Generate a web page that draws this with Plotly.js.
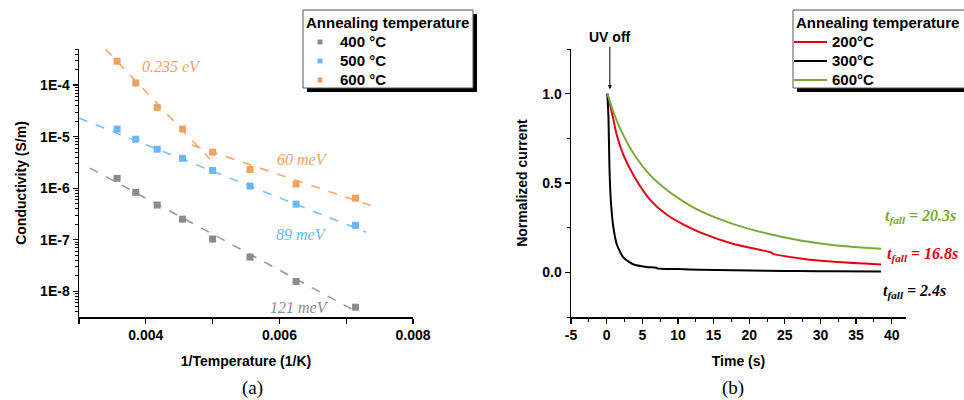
<!DOCTYPE html>
<html>
<head>
<meta charset="utf-8">
<script src="https://cdn.plot.ly/plotly-3.0.1.min.js"></script>
<style>html,body{margin:0;padding:0;background:#fff;}#chart{width:964px;height:400px;}</style>
</head>
<body>
<div id="chart"></div>
<script>
// ---------- Panel (a): conductivity vs 1/T ----------
const invT = [0.00357, 0.00385, 0.00417, 0.00455, 0.00500, 0.00556, 0.00625, 0.00714];
const sigma400 = [1.55e-6, 8.3e-7, 4.7e-7, 2.5e-7, 1.03e-7, 4.6e-8, 1.55e-8, 4.9e-9];
const sigma500 = [1.4e-5, 8.9e-6, 5.7e-6, 3.8e-6, 2.2e-6, 1.1e-6, 4.9e-7, 1.9e-7];
const sigma600 = [2.9e-4, 1.1e-4, 3.7e-5, 1.4e-5, 5.0e-6, 2.3e-6, 1.2e-6, 6.4e-7];
const seriesNamesA = ["400 °C", "500 °C", "600 °C"];

// fitted lines (end points)
const fit400X = [0.003165, 0.007147];
const fit400Y = [2.45e-6, 4.07e-9];
const fit500X = [0.0030, 0.007296];
const fit500Y = [2.29e-5, 1.40e-7];
const fit600aX = [0.00321, 0.00496];
const fit600aY = [8.93e-4, 3.66e-6];
const fit600bX = [0.00469, 0.00740];
const fit600bY = [6.84e-6, 4.47e-7];
const energyLabels = ["121 meV", "89 meV", "0.235 eV", "60 meV"];
const xTicksA = [0.003, 0.004, 0.005, 0.006, 0.007, 0.008];
const xTickTextA = ["", "0.004", "", "0.006", "", "0.008"];
const yTicksA = [1e-8, 1e-7, 1e-6, 1e-5, 1e-4];
const yTickTextA = ["1E-8", "1E-7", "1E-6", "1E-5", "1E-4"];

// ---------- Panel (b): normalized current decay ----------
const tBlack = [0.1, 0.26, 0.40, 0.59, 0.96, 1.43, 2.36, 3.77, 5.6, 7.05, 7.1, 10, 13.1, 17.8, 22.5, 27.2, 31.9, 38.5];
const iBlack = [1.0, 0.86, 0.58, 0.40, 0.248, 0.156, 0.082, 0.044, 0.030, 0.025, 0.022, 0.018, 0.015, 0.012, 0.009, 0.007, 0.006, 0.004];
const tRed = [0.1, 0.73, 1.43, 2.36, 3.77, 6.1, 8.45, 10.8, 13.1, 17.8, 23.2, 23.3, 27.2, 31.9, 38.5];
const iRed = [1.0, 0.896, 0.767, 0.656, 0.544, 0.406, 0.322, 0.267, 0.224, 0.159, 0.109, 0.104, 0.078, 0.059, 0.044];
const tGreen = [0.1, 0.96, 1.9, 2.84, 3.77, 6.1, 8.45, 10.8, 13.1, 17.8, 22.5, 27.2, 31.9, 38.5];
const iGreen = [1.0, 0.896, 0.804, 0.73, 0.665, 0.544, 0.461, 0.396, 0.344, 0.270, 0.217, 0.178, 0.152, 0.132];
const seriesNamesB = ["200°C", "300°C", "600°C"];
const tfallLabels = ["20.3s", "16.8s", "2.4s"];
const xTicksB = [-5, 0, 5, 10, 15, 20, 25, 30, 35, 40];
const yTicksB = [0, 0.5, 1.0];
const yTickTextB = ["0.0", "0.5", "1.0"];

// ---------- helpers (pixel -> paper) ----------
const W = 964, H = 400;
const px = x => x / W;
const py = y => 1 - y / H;

const cGray = "#8c8c8c", cBlue = "#6cb6f2", cOrange = "#eea262";
const cGrayL = "#9a9a9a", cBlueL = "#7cc0f4", cOrangeL = "#f0aa6c";
const cRed = "#e3000f", cBlack = "#000000", cGreen = "#7aa83a";

const mk = c => ({symbol: "square", size: 7, color: c});
const traces = [
  {x: fit400X, y: fit400Y, mode: "lines", line: {color: cGrayL, dash: "dash", width: 1.6}, xaxis: "x", yaxis: "y"},
  {x: fit500X, y: fit500Y, mode: "lines", line: {color: cBlueL, dash: "dash", width: 1.6}, xaxis: "x", yaxis: "y"},
  {x: fit600aX, y: fit600aY, mode: "lines", line: {color: cOrangeL, dash: "dash", width: 1.6}, xaxis: "x", yaxis: "y"},
  {x: fit600bX, y: fit600bY, mode: "lines", line: {color: cOrangeL, dash: "dash", width: 1.6}, xaxis: "x", yaxis: "y"},
  {x: invT, y: sigma400, mode: "markers", name: seriesNamesA[0], marker: mk(cGray), xaxis: "x", yaxis: "y"},
  {x: invT, y: sigma500, mode: "markers", name: seriesNamesA[1], marker: mk(cBlue), xaxis: "x", yaxis: "y"},
  {x: invT, y: sigma600, mode: "markers", name: seriesNamesA[2], marker: mk(cOrange), xaxis: "x", yaxis: "y"},
  {x: tRed, y: iRed, mode: "lines", name: seriesNamesB[0], line: {color: cRed, width: 2, shape: "spline", smoothing: 0.8}, xaxis: "x2", yaxis: "y2"},
  {x: tBlack, y: iBlack, mode: "lines", name: seriesNamesB[1], line: {color: cBlack, width: 2, shape: "spline", smoothing: 0.6}, xaxis: "x2", yaxis: "y2"},
  {x: tGreen, y: iGreen, mode: "lines", name: seriesNamesB[2], line: {color: cGreen, width: 2, shape: "spline", smoothing: 0.8}, xaxis: "x2", yaxis: "y2"}
];

const SANS = "'Liberation Sans', Arial, sans-serif";
const SERIF = "'Liberation Serif', 'Times New Roman', serif";
const tickFont = {family: SANS, size: 14, color: "#000", weight: 700};
const titleFont = {family: SANS, size: 14, color: "#000", weight: 700};
const axBase = {showgrid: false, zeroline: false, showline: true, linecolor: "#000", linewidth: 1.5,
  ticks: "outside", ticklen: 5, tickwidth: 1.3, tickcolor: "#000", tickfont: tickFont, fixedrange: true};
const bold = a => a.map(s => s === "" ? "" : "<b>" + s + "</b>");

// minor ticks for log axis
const logMinor = [];
for (let e = -9; e <= -3; e++) for (let m = 2; m <= 9; m++) logMinor.push(m * Math.pow(10, e));

const domY = [py(317), py(49)];

const layout = {
  width: W, height: H, autosize: false, showlegend: false,
  margin: {l: 0, r: 0, t: 0, b: 0},
  paper_bgcolor: "#fff", plot_bgcolor: "#fff",
  font: {family: SANS, color: "#000"},
  xaxis: Object.assign({}, axBase, {domain: [px(79), px(413)], anchor: "y", range: [0.003, 0.008],
    tickvals: xTicksA, ticktext: bold(xTickTextA),
    title: {text: "<b>1/Temperature (1/K)</b>", font: titleFont, standoff: 14}}),
  yaxis: Object.assign({}, axBase, {domain: domY, anchor: "x", type: "log", range: [-8.5, -3.3],
    tickvals: yTicksA, ticktext: bold(yTickTextA),
    minor: {tickmode: "array", tickvals: logMinor, ticks: "outside", ticklen: 3, tickwidth: 1, tickcolor: "#000"},
    title: {text: "<b>Conductivity (S/m)</b>", font: titleFont, standoff: 10}}),
  xaxis2: Object.assign({}, axBase, {domain: [px(571), px(906)], anchor: "y2", range: [-5, 42],
    tickvals: xTicksB, ticktext: bold(xTicksB.map(String)),
    minor: {tick0: 0, dtick: 2.5, ticks: "outside", ticklen: 3, tickwidth: 1, tickcolor: "#000"},
    title: {text: "<b>Time (s)</b>", font: titleFont, standoff: 14}}),
  yaxis2: Object.assign({}, axBase, {domain: domY, anchor: "x2", range: [-0.25, 1.25],
    tickvals: yTicksB, ticktext: bold(yTickTextB),
    minor: {tick0: 0, dtick: 0.25, ticks: "outside", ticklen: 3, tickwidth: 1, tickcolor: "#000"},
    title: {text: "<b>Normalized current</b>", font: titleFont, standoff: 11}}),
  shapes: [],
  annotations: []
};

// ---------- hand-built legends (box, shadow, keys) ----------
function legendBox(x0, y0, x1, y1, shadowRight) {
  const s = [];
  if (shadowRight) s.push({type: "rect", xref: "paper", yref: "paper", x0: px(x0 + 4), x1: px(x1 + 4), y0: py(y1 + 4), y1: py(y0 + 4), fillcolor: "#000", line: {width: 0}, layer: "above"});
  else s.push({type: "rect", xref: "paper", yref: "paper", x0: px(x0 + 4), x1: px(x1 + 10), y0: py(y1 + 4), y1: py(y1), fillcolor: "#000", line: {width: 0}, layer: "above"});
  s.push({type: "rect", xref: "paper", yref: "paper", x0: px(x0), x1: px(x1), y0: py(y1), y1: py(y0), fillcolor: "#fff", line: {color: "#555", width: 1}, layer: "above"});
  return s;
}
const legFont = {family: SANS, size: 15, color: "#000", weight: 700};
function legText(text, x, y) {
  return {text: "<b>" + text + "</b>", xref: "paper", yref: "paper", x: px(x), y: py(y), xanchor: "left", yanchor: "middle", showarrow: false, font: legFont};
}
const rowY = [42, 61, 80];
// left legend
layout.shapes.push(...legendBox(303, 10, 473, 88, true));
layout.annotations.push(legText("Annealing temperature", 304, 22));
[cGray, cBlue, cOrange].forEach((c, i) => {
  layout.shapes.push({type: "rect", xref: "paper", yref: "paper", x0: px(317.5), x1: px(322.5), y0: py(rowY[i] + 2.5), y1: py(rowY[i] - 2.5), fillcolor: c, line: {width: 0}, layer: "above"});
  layout.annotations.push(legText(seriesNamesA[i], 338, rowY[i]));
});
// right legend
layout.shapes.push(...legendBox(793, 10, 975, 88, false));
layout.annotations.push(legText("Annealing temperature", 794, 22));
[cRed, cBlack, cGreen].forEach((c, i) => {
  layout.shapes.push({type: "line", xref: "paper", yref: "paper", x0: px(794), x1: px(827), y0: py(rowY[i]), y1: py(rowY[i]), line: {color: c, width: 2}, layer: "above"});
  layout.annotations.push(legText(seriesNamesB[i], 830, rowY[i]));
});

function ann(text, x, y, color, size) {
  return {text: text, xref: "paper", yref: "paper", x: px(x), y: py(y), xanchor: "center", yanchor: "middle",
    showarrow: false, font: {family: SERIF, size: size, color: color}};
}
layout.annotations.push(
  ann("<i>" + energyLabels[2] + "</i>", 171, 66, cOrange, 16),
  ann("<i>" + energyLabels[3] + "</i>", 302, 159, cOrange, 16),
  ann("<i>" + energyLabels[1] + "</i>", 301, 234, cBlue, 16),
  ann("<i>" + energyLabels[0] + "</i>", 299, 307, cGray, 16),
  ann("<b><i>t<sub>fall</sub> = " + tfallLabels[0] + "</i></b>", 920, 216, cGreen, 16),
  ann("<b><i>t<sub>fall</sub> = " + tfallLabels[1] + "</i></b>", 922, 255, cRed, 16),
  ann("<b><i>t<sub>fall</sub> = " + tfallLabels[2] + "</i></b>", 914, 291, cBlack, 16),
  ann("(a)", 252, 388, "#000", 19),
  ann("(b)", 733, 388, "#000", 19),
  {text: "<b>UV off</b>", xref: "x2", yref: "y2", x: 0.45, y: 1.025, ax: 0, ay: -52, showarrow: true,
   arrowhead: 2, arrowsize: 0.8, arrowwidth: 1, arrowcolor: "#000",
   font: {family: SANS, size: 14, color: "#000", weight: 700}}
);

Plotly.newPlot("chart", traces, layout, {displayModeBar: false, staticPlot: true});
</script>
</body>
</html>
